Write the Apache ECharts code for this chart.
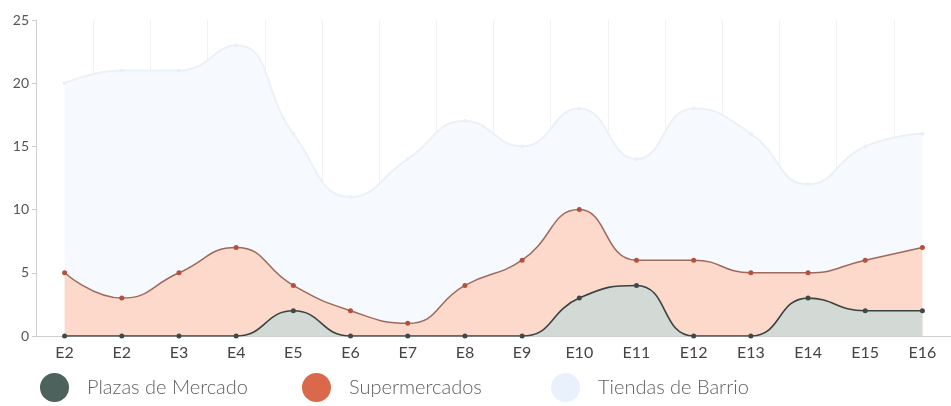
<!DOCTYPE html>
<html>
<head>
<meta charset="utf-8">
<script src="https://cdn.jsdelivr.net/npm/echarts@6/dist/echarts.min.js"></script>
<style>
  html, body { margin: 0; padding: 0; background: #ffffff; }
  #chart { width: 951px; height: 406px; }
</style>
</head>
<body>
<div id="chart"></div>
<script>
// categorias del eje x
var categorias = ['E2', 'E2', 'E3', 'E4', 'E5', 'E6', 'E7', 'E8', 'E9', 'E10', 'E11', 'E12', 'E13', 'E14', 'E15', 'E16'];
// valores por serie
var plazas = [0, 0, 0, 0, 2, 0, 0, 0, 0, 3, 4, 0, 0, 3, 2, 2];
var supermercados = [5, 3, 5, 7, 4, 2, 1, 4, 6, 10, 6, 6, 5, 5, 6, 7];
var tiendas = [20, 21, 21, 23, 16, 11, 14, 17, 15, 18, 14, 18, 16, 12, 15, 16];
var nombres = ['Plazas de Mercado', 'Supermercados', 'Tiendas de Barrio'];
var coloresLeyenda = ['#4d615d', '#d9694a', '#e8f1fc'];
var posLeyenda = [40, 302, 551];

var fuente = 'Lato';

// una leyenda por serie, para colocarlas como en el original
var leyendas = nombres.map(function (n, i) {
  return {
    top: 373,
    left: posLeyenda[i],
    padding: 0,
    icon: 'circle',
    itemWidth: 29,
    itemHeight: 29,
    textStyle: { fontFamily: fuente, fontSize: 20, fontWeight: 300, color: '#606060', padding: [0, 0, 0, 13] },
    data: [{ name: n, itemStyle: { color: coloresLeyenda[i] } }]
  };
});

var chart = echarts.init(document.getElementById('chart'));
chart.setOption({
  animation: false,
  backgroundColor: '#ffffff',
  grid: { left: 36, right: -10, top: 20, bottom: 70 },
  legend: leyendas,
  xAxis: {
    type: 'category',
    boundaryGap: true,
    data: categorias,
    axisLine: { lineStyle: { color: '#cfcfcf' } },
    axisTick: { alignWithLabel: true, length: 4, lineStyle: { color: '#bbb' } },
    axisLabel: { fontFamily: fuente, fontSize: 16, color: '#444', margin: 9 },
    splitLine: { show: true, lineStyle: { color: 'rgba(0,0,0,0.05)' } }
  },
  yAxis: {
    type: 'value',
    min: 0,
    max: 25,
    interval: 5,
    axisLine: { show: true, lineStyle: { color: '#cfcfcf' } },
    axisTick: { show: true, length: 4, lineStyle: { color: '#ccc' } },
    axisLabel: { fontFamily: fuente, fontSize: 14, color: '#555', margin: 7 },
    splitLine: { show: false }
  },
  series: [
    {
      name: nombres[0],
      type: 'line',
      smooth: true,
      z: 4,
      data: plazas,
      symbol: 'circle',
      symbolSize: 5,
      itemStyle: { color: '#3d4a47' },
      lineStyle: { color: '#3a4340', width: 1.6 },
      areaStyle: { color: '#d3d9d5', opacity: 1 }
    },
    {
      name: nombres[1],
      type: 'line',
      smooth: true,
      z: 3,
      data: supermercados,
      symbol: 'circle',
      symbolSize: 5,
      itemStyle: { color: '#b4503d' },
      lineStyle: { color: '#9c6a5c', width: 1.5 },
      areaStyle: { color: '#fdd9cb', opacity: 1 }
    },
    {
      name: nombres[2],
      type: 'line',
      smooth: true,
      z: 2,
      data: tiendas,
      symbol: 'circle',
      symbolSize: 4,
      itemStyle: { color: '#eaf0f8' },
      lineStyle: { color: '#ebf1f9', width: 2 },
      areaStyle: { color: '#f6f9fe', opacity: 1 }
    }
  ]
});
</script>
</body>
</html>
